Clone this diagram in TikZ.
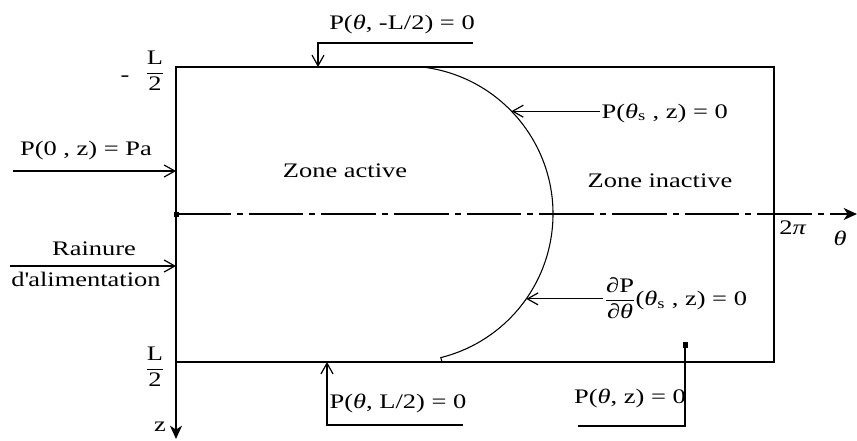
\documentclass[tikz,border=0pt]{standalone}
\usepackage{fontspec}
\setmainfont[FakeStretch=1.28]{Liberation Serif}
\usetikzlibrary{arrows.meta, positioning, calc}
\newcommand{\frc}[2]{$\displaystyle\frac{\mbox{#1}}{\mbox{#2}}$}

\begin{document}
\begin{tikzpicture}[x=0.75pt, y=-0.75pt,
    every node/.style={font=\fontsize{15.5}{18}\selectfont, inner sep=1pt},
    frame/.style={line width=1.4pt},
    lead/.style={line width=0.9pt},
    cond/.style={lead, -{Straight Barb[length=8pt, width=9pt]}},
    axis/.style={line width=1.2pt, -{Stealth[length=10pt, width=9pt, inset=3pt]}},
    centre/.style={line width=0.9pt, dash pattern=on 41pt off 4.5pt on 4.5pt off 4.5pt}]
    \useasboundingbox (0,0) rectangle (857,440);

    % developed bearing surface
    \coordinate (tl) at (176,67);
    \coordinate (br) at (774,362);
    \coordinate (bl) at (176,362);
    \coordinate (orig) at (176,214);
    \coordinate (ctr) at (405,214);
    \draw[frame] (tl) rectangle (br);

    % axes
    \coordinate (zend) at (176,439);
    \coordinate (thmid) at (832,214);
    \coordinate (thend) at (857,214);
    \draw[axis] (bl) -- (zend);
    \draw[centre] (orig) -- (thmid);
    \draw[axis] (thmid) -- (thend);
    \fill (orig) ++(-2.5,-2.5) rectangle ++(5,5);

    % rupture boundary
    \draw[line width=0.8pt] (ctr) ++(-82:148) arc[start angle=-82, end angle=76, radius=148] -- (442,362);
    \coordinate (sU) at ($(ctr)+(-44:148)$);
    \coordinate (sL) at ($(ctr)+(35:148)$);

    % zones and axis labels
    \node (zact) at (345,171) {Zone active};
    \node (zinact) at (660,181) {Zone inactive};
    \node (twopi) at (793,228) {2\textit{π}};
    \node (thlab) at (840,238) {\textit{θ}};
    \node (zlab) at (160,427) {z};
    \node[anchor=base] (mminus) at (125,81) {-};
    \node (mhalf) at (155,71) {\frc{L}{2}};
    \node (phalf) at (155,367) {\frc{L}{2}};

    % feeding side
    \node (cPa) at (86,151) {P(0 , z) = Pa};
    \coordinate (aPa) at (13,171);
    \draw[cond] (aPa) -- (aPa -| orig);
    \node (cRa) at (94,249) {Rainure};
    \node (cAl) at (86,279) {d\textquotesingle alimentation};
    \coordinate (aRa) at (10,266);
    \draw[cond] (aRa) -- (aRa -| orig);

    % edges
    \node (cTop) at (402,24) {P(\textit{θ}, -L/2) = 0};
    \coordinate (kTop) at (473,43);
    \coordinate (tTop) at (318,67);
    \draw[cond] (kTop) -| (tTop);
    \node (cBot) at (398,403) {P(\textit{θ}, L/2) = 0};
    \coordinate (kBot) at (463,425);
    \coordinate (tBot) at (327,362);
    \draw[cond] (kBot) -| (tBot);
    \node (cIn) at (630,398) {P(\textit{θ}, z) = 0};
    \coordinate (kIn) at (578,426);
    \coordinate (tIn) at (685,345);
    \draw[lead] (kIn) -| (tIn);
    \fill (tIn) ++(-2.5,-3) rectangle ++(5,6);

    % boundary of the active zone
    \node[anchor=base west] (cS) at (600,118) {P(\textit{θ}\textsubscript{s} , z) = 0};
    \draw[cond] (sU -| cS.west) -- (sU);
    \node[anchor=west] (cD) at (603,298) {\frc{∂P}{∂\textit{θ}}(\textit{θ}\textsubscript{s} , z) = 0};
    \draw[cond] (sL -| cD.west) -- (sL);
\end{tikzpicture}
\end{document}
